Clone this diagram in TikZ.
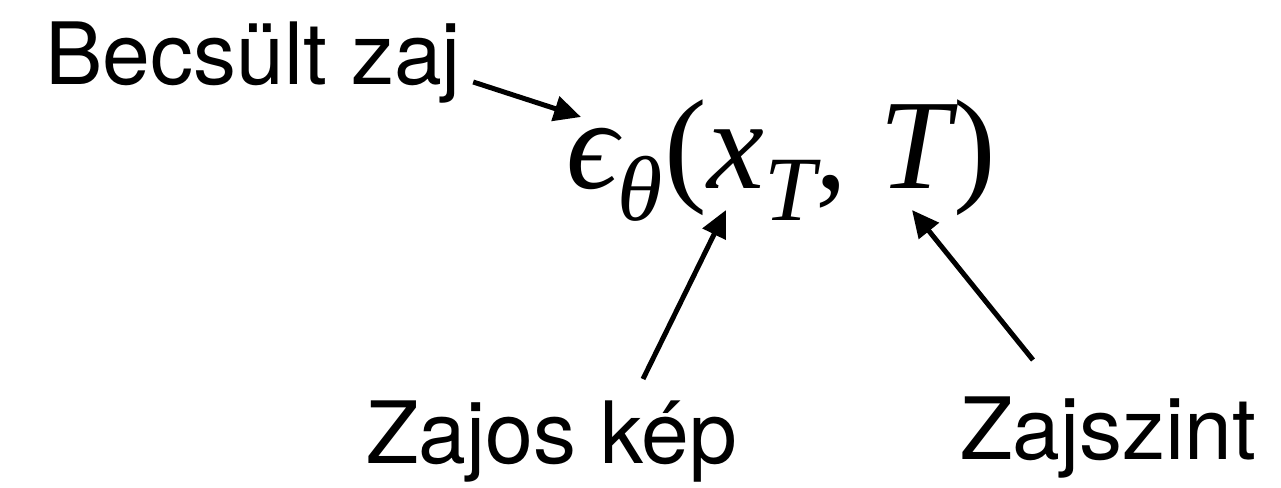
\documentclass[tikz,border=0pt]{standalone}
\usepackage{fontspec}
\setmainfont{TeX Gyre Heros}
\newfontfamily\tms{Liberation Serif}[ItalicFont={Liberation Serif Italic}]
\usepackage{tikz}
\usetikzlibrary{arrows.meta, positioning, calc}

\newcommand{\lowsub}[1]{\raisebox{-0.25em}{\fontsize{92}{100}\selectfont #1}}

\begin{document}
\begin{tikzpicture}[
    x=1pt, y=-1pt,
    lbl/.style={inner sep=0pt, anchor=base west, font=\fontsize{86}{100}\selectfont},
    formula/.style={inner sep=0pt, anchor=base west, font=\fontsize{128}{150}\selectfont\tms\itshape},
    arr/.style={-{Triangle[length=27pt, width=25pt]}, line width=5pt, black}
]
    \useasboundingbox (0,0) rectangle (1281,487);

    % Formula
    \node[formula] (eps) at (566,188) {ϵ\lowsub{θ}\kern2pt\textup{(}x\lowsub{T}\textup{,} T\kern3pt\textup{)}};

    % Labels
    \node[lbl] (est) at (45,84) {Becsült zaj};
    \node[lbl] (noisy) at (366,463) {Zajos kép};
    \node[lbl] (level) at (960,459) {Zajszint};

    % Arrow ends
    \coordinate (tipEst) at (581,117);
    \coordinate (tipX) at (726,210);
    \coordinate (tipT) at (912,210);

    \draw[arr] ([shift={(12,-2)}]est.base east) -- (tipEst);
    \draw[arr] ([shift={(277,-84)}]noisy.base west) -- (tipX);
    \draw[arr] ([shift={(73,-99)}]level.base west) -- (tipT);
\end{tikzpicture}
\end{document}
